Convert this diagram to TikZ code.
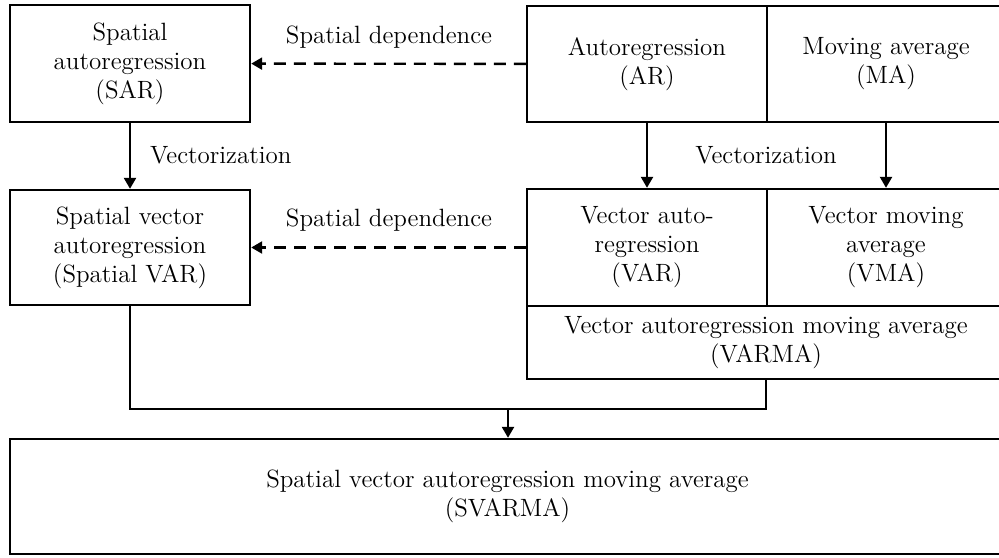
\documentclass[tikz,border=0pt]{standalone}
\usepackage{tikz}
\usetikzlibrary{arrows.meta}
\tikzset{
  model/.style={draw,line width=1.2pt,inner sep=0pt,align=center,
    font=\fontsize{12.5}{14.5}\selectfont},
  arr/.style={line width=1.2pt,-{Triangle[length=5.5pt,width=6pt]}},
  dep/.style={arr,dash pattern=on 6pt off 4pt},
  lbl/.style={font=\fontsize{12.5}{14.5}\selectfont}
}

\begin{document}
\begin{tikzpicture}[x=0.5pt,y=-0.5pt]
  \useasboundingbox (0,0) rectangle (999,557);
  \clip (0,0) rectangle (999,557);
  % spatial column
  \node[model,minimum width=120pt,minimum height=58.5pt] (sar) at (130,63.5)
    {Spatial\\autoregression\\(SAR)};
  \node[model,minimum width=120pt,minimum height=57.5pt] (svar) at (130,247.5)
    {Spatial vector\\autoregression\\(Spatial VAR)};
  % time series blocks
  \node[model,minimum width=120pt,minimum height=58pt] (ar) at (647,64)
    {Autoregression\\(AR)};
  \node[model,minimum width=119pt,minimum height=58pt] (ma) at (886,64)
    {Moving average\\(MA)};
  \node[model,minimum width=120pt,minimum height=58.5pt] (var) at (647,247.5)
    {Vector auto-\\regression\\(VAR)};
  \node[model,minimum width=119pt,minimum height=58.5pt] (vma) at (886,247.5)
    {Vector moving\\average\\(VMA)};
  \node[model,minimum width=239pt,minimum height=36.5pt] (varma) at (766,342.5)
    {Vector autoregression moving average\\(VARMA)};
  \node[model,minimum width=497.5pt,minimum height=57.5pt] (svarma) at (507.5,496.5)
    {Spatial vector autoregression moving average\\(SVARMA)};

  % spatial dependence
  \draw[dep] (ar) -- (sar);
  \draw[dep] (var) -- (svar);
  \node[lbl] (dep1) at (389,37) {Spatial dependence};
  \node[lbl] (dep2) at (389,220) {Spatial dependence};

  % vectorization
  \draw[arr] (sar) -- (svar);
  \draw[arr] (ar) -- (var);
  \draw[arr] (ma) -- (vma);
  \node[lbl,anchor=west] (vec1) at (143,155) {Vectorization};
  \node[lbl] (vec2) at (766,155) {Vectorization};

  % merge into SVARMA
  \coordinate (merge) at (508,409);
  \draw[line width=1.2pt] (svar.south) |- (merge) -| (varma.south);
  \draw[arr] (merge) -- (merge |- svarma.north);
\end{tikzpicture}
\end{document}
